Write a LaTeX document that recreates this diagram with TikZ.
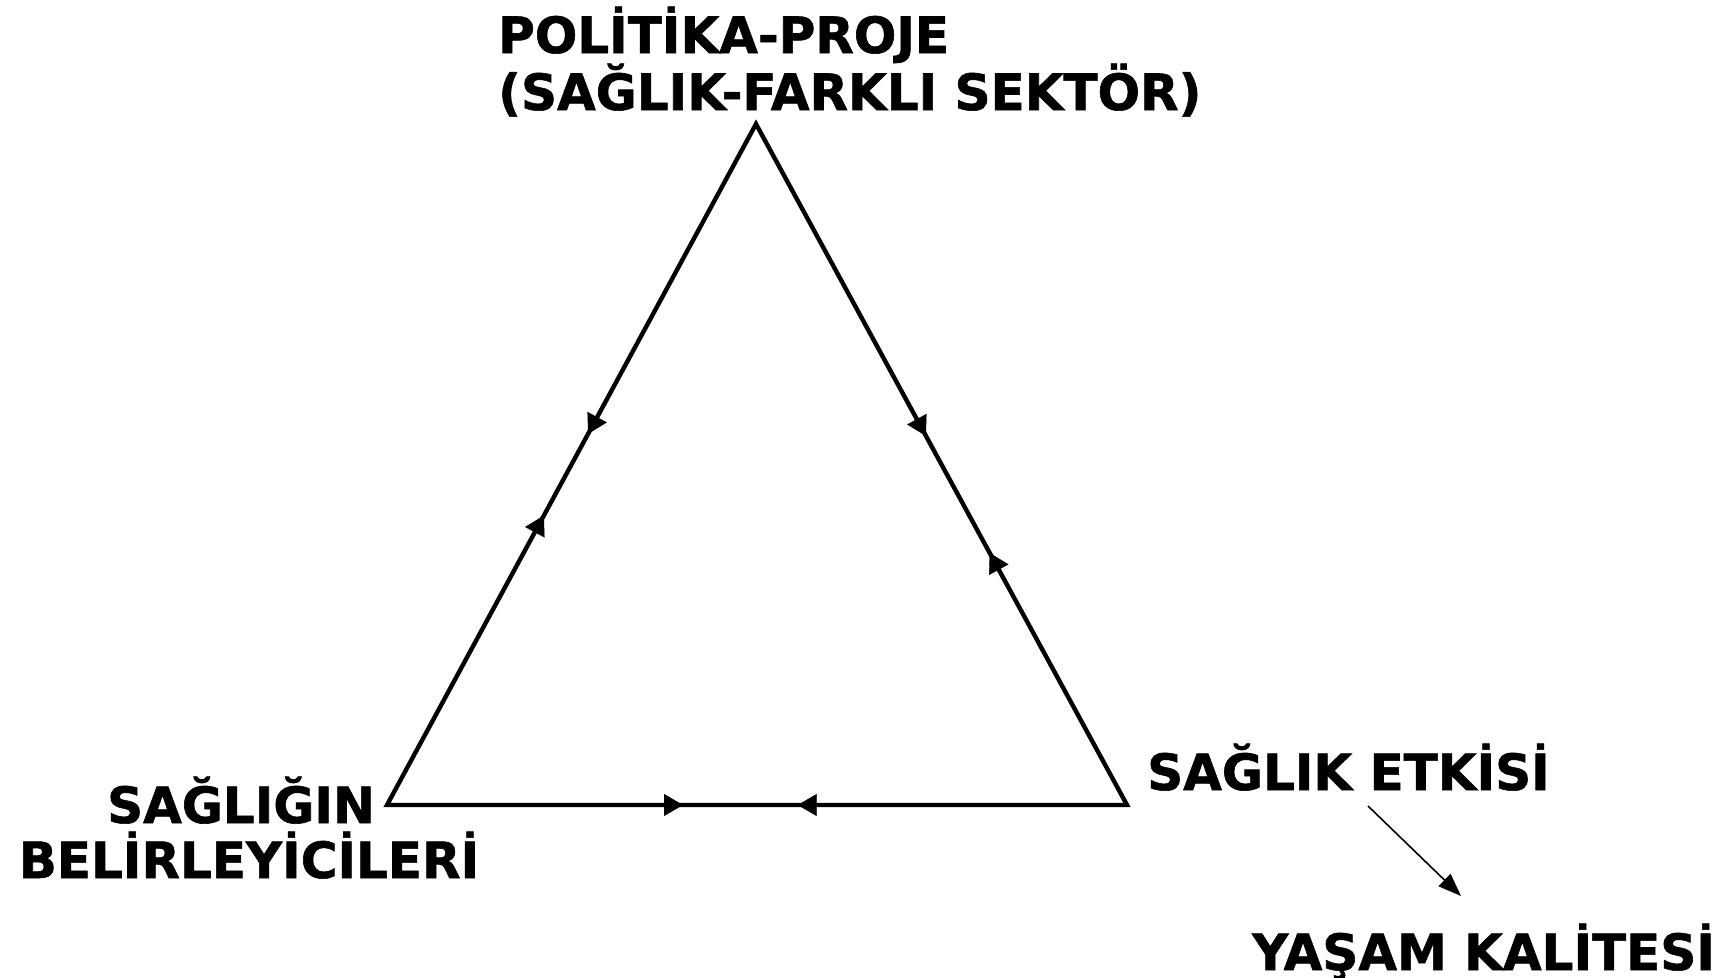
\documentclass[tikz,border=0pt]{standalone}
\usepackage{fontspec}
\setmainfont{DejaVu Sans}[BoldFeatures={FakeBold=1.2}]
\usetikzlibrary{arrows.meta,decorations.markings}
\begin{document}
\begin{tikzpicture}[x=1pt,y=-1pt,
  lbl/.style={font=\bfseries\fontsize{50}{57}\selectfont, inner sep=0pt},
  tri/.style={line width=4.4pt, line join=miter},
  mytip/.tip={Triangle[length=19pt,width=22pt]},
  mk/.style 2 args={postaction={decorate}, decoration={markings,
     mark=at position #1 with {\arrow{mytip}},
     mark=at position #2 with {\arrowreversed{mytip}}}},
  thin/.style={line width=1.6pt, -{Triangle[length=23pt,width=17pt]}}]
\useasboundingbox (0,0) rectangle (1718,977);
\coordinate (A) at (756,124);
\coordinate (B) at (387,805);
\coordinate (C) at (1127,805);
\draw[tri] (A) -- (B) -- (C) -- cycle;
\path[mk={0.455}{0.575}] (A) -- (B);
\path[mk={0.458}{0.63}] (A) -- (C);
\path[mk={0.40}{0.555}] (B) -- (C);
\node[lbl, anchor=base west] (top1) at (498,53) {POLİTİKA-PROJE};
\node[lbl, anchor=base west] (top2) at (498,110) {(SAĞLIK-FARKLI SEKTÖR)};
\node[lbl, anchor=base] (bl1) at (241,823) {SAĞLIĞIN};
\node[lbl, anchor=base] (bl2) at (249,878) {BELİRLEYİCİLERİ};
\node[lbl, anchor=base west] (etki) at (1147,790) {SAĞLIK ETKİSİ};
\node[lbl, anchor=base west] (yasam) at (1252,970) {YAŞAM KALİTESİ};
\coordinate (s) at (1368,806);
\coordinate (e) at (1461,896);
\draw[thin] (s) -- (e);
\end{tikzpicture}
\end{document}
